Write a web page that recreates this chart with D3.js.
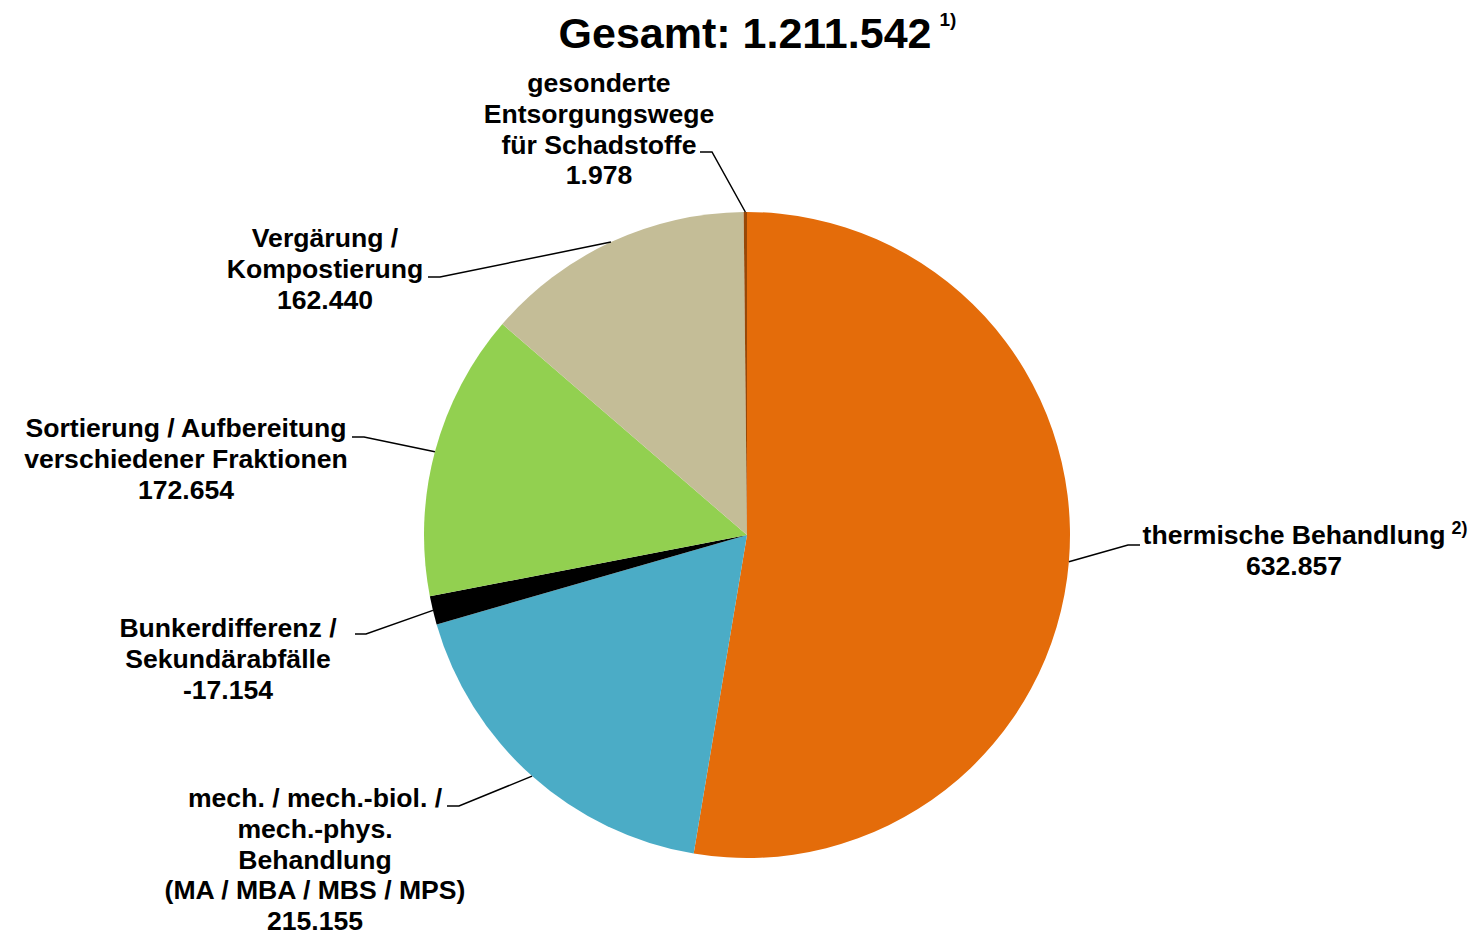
<!DOCTYPE html>
<html>
<head>
<meta charset="utf-8">
<script src="https://cdn.jsdelivr.net/npm/d3@7"></script>
<style>
  html, body { margin: 0; padding: 0; background: #fff; }
  svg { display: block; }
  text { font-family: "Liberation Sans", Arial, sans-serif; font-weight: bold; fill: #000; }
</style>
</head>
<body>
<svg id="chart" width="1476" height="936"></svg>
<script>
// ---- data ----
const categories = [
  "thermische Behandlung",
  "mech. / mech.-biol. / mech.-phys. Behandlung (MA / MBA / MBS / MPS)",
  "Bunkerdifferenz / Sekundärabfälle",
  "Sortierung / Aufbereitung verschiedener Fraktionen",
  "Vergärung / Kompostierung",
  "gesonderte Entsorgungswege für Schadstoffe"
];
const values = [632857, 215155, -17154, 172654, 162440, 1978];
const labelLines = [
  ["thermische Behandlung"],
  ["mech. / mech.-biol. /", "mech.-phys.", "Behandlung", "(MA / MBA / MBS / MPS)"],
  ["Bunkerdifferenz /", "Sekundärabfälle"],
  ["Sortierung / Aufbereitung", "verschiedener Fraktionen"],
  ["Vergärung /", "Kompostierung"],
  ["gesonderte", "Entsorgungswege", "für Schadstoffe"]
];
const valueLabels = ["632.857", "215.155", "-17.154", "172.654", "162.440", "1.978"];
const footnotes = ["2)", "", "", "", "", ""];
const colors = ["#E46C0A", "#4BACC6", "#000000", "#92D050", "#C4BD97", "#984807"];
const titleText = "Gesamt: 1.211.542";
const titleNote = "1)";

// ---- layout (positions only) ----
const cx = 747, cy = 535, R = 323;
const fontSize = 26.6, lineH = 30.8;
// label center x, first baseline y, horizontal leader segment [x0 (near text), x1 (elbow)], y
const labelLayout = [
  { x: 1294, y: 544, hx0: 1140, hx1: 1128, hy: 545 },
  { x: 315,  y: 807, hx0: 447,  hx1: 459,  hy: 806 },
  { x: 228,  y: 637, hx0: 355,  hx1: 366,  hy: 634 },
  { x: 186,  y: 437, hx0: 352,  hx1: 364,  hy: 437 },
  { x: 325,  y: 247, hx0: 428,  hx1: 440,  hy: 277 },
  { x: 599,  y: 92,  hx0: 700,  hx1: 712,  hy: 152 }
];

const svg = d3.select("#chart");

// title
const title = svg.append("text")
  .attr("x", 745).attr("y", 48)
  .attr("text-anchor", "middle")
  .style("font-size", "43px")
  .text(titleText);
const tb = title.node().getBBox();
svg.append("text")
  .attr("x", tb.x + tb.width + 8).attr("y", 26)
  .style("font-size", "19px")
  .text(titleNote);

// pie
const pie = d3.pie().sort(null).value(d => Math.abs(d));
const arcs = pie(values);
const arc = d3.arc().innerRadius(0).outerRadius(R);

const g = svg.append("g").attr("transform", `translate(${cx},${cy})`);
g.selectAll("path.slice")
  .data(arcs)
  .join("path")
  .attr("class", "slice")
  .attr("d", arc)
  .attr("fill", (d, i) => colors[i]);

// leader lines
arcs.forEach((d, i) => {
  const L = labelLayout[i];
  const mid = (d.startAngle + d.endAngle) / 2;
  const px = cx + R * Math.sin(mid);
  const py = cy - R * Math.cos(mid);
  svg.append("path")
    .attr("d", `M${L.hx0},${L.hy}L${L.hx1},${L.hy}L${px},${py}`)
    .attr("fill", "none")
    .attr("stroke", "#000")
    .attr("stroke-width", 1.5);
});

// labels
arcs.forEach((d, i) => {
  const L = labelLayout[i];
  const lines = labelLines[i].concat([valueLabels[i]]);
  const t = svg.append("text")
    .attr("text-anchor", "middle")
    .style("font-size", fontSize + "px");
  lines.forEach((ln, k) => {
    t.append("tspan").attr("x", L.x).attr("y", L.y + k * lineH).text(ln);
  });
  if (footnotes[i]) {
    const first = t.select("tspan").node();
    const bb = first.getBBox();
    svg.append("text")
      .attr("x", bb.x + bb.width + 6).attr("y", L.y - 10)
      .style("font-size", "18px")
      .text(footnotes[i]);
  }
});
</script>
</body>
</html>
